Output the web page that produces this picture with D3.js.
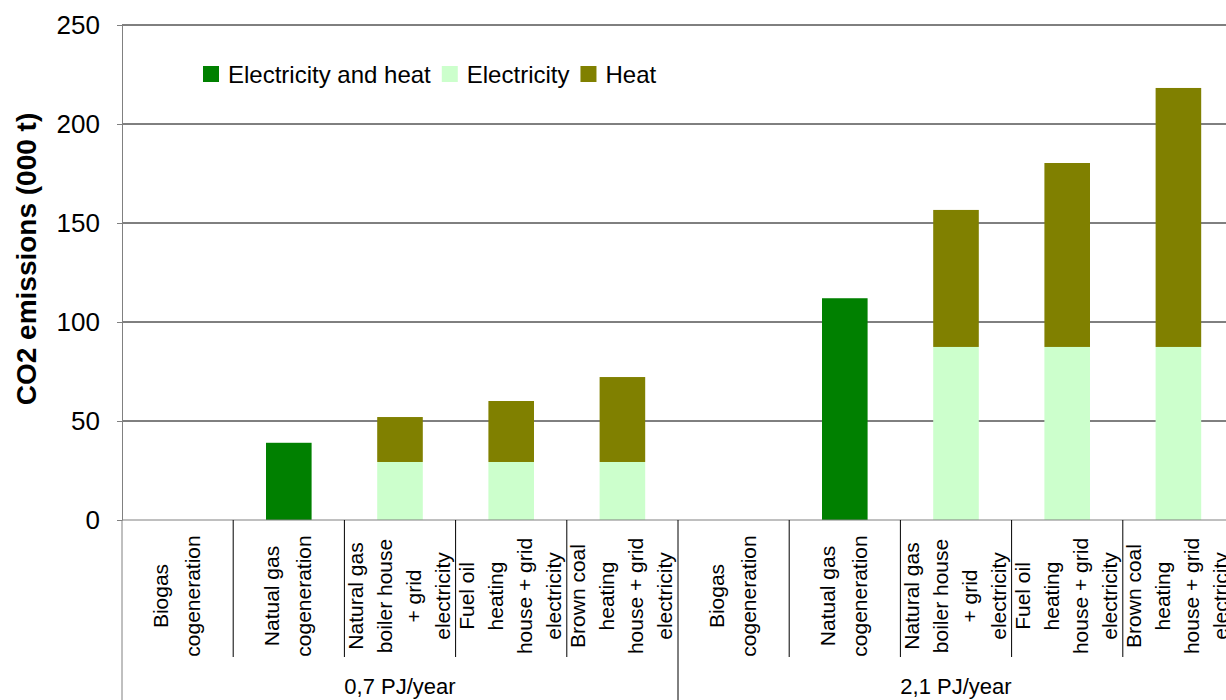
<!DOCTYPE html>
<html>
<head>
<meta charset="utf-8">
<script src="https://cdn.jsdelivr.net/npm/d3@7"></script>
<style>
  body { margin: 0; background: #fff; }
  text { font-family: Arial, "Liberation Sans", sans-serif; fill: #000; }
</style>
</head>
<body>
<div id="chart"></div>
<script>
// Category labels (one entry per line of the wrapped label)
const categories = [
    ["Biogas", "cogeneration"],
    ["Natual gas", "cogeneration"],
    ["Natural gas", "boiler house", "+ grid", "electricity"],
    ["Fuel oil", "heating", "house + grid", "electricity"],
    ["Brown coal", "heating", "house + grid", "electricity"],
    ["Biogas", "cogeneration"],
    ["Natual gas", "cogeneration"],
    ["Natural gas", "boiler house", "+ grid", "electricity"],
    ["Fuel oil", "heating", "house + grid", "electricity"],
    ["Brown coal", "heating", "house + grid", "electricity"]
];
const groups = ["0,7 PJ/year", "2,1 PJ/year"];

// Series values (000 t CO2)
const elecAndHeat = [0, 39, 0, 0, 0, 0, 112, 0, 0, 0];
const electricity = [0, 0, 29.3, 29.3, 29.3, 0, 0, 87.4, 87.4, 87.4];
const heat = [0, 0, 22.7, 30.8, 42.9, 0, 0, 69.2, 92.9, 130.8];

const seriesNames = ["Electricity and heat", "Electricity", "Heat"];
const colors = ["#008000", "#CCFFCC", "#808000"];
const yTicks = [0, 50, 100, 150, 200, 250];

// Build table for the stack
const table = categories.map((c, i) => ({
    idx: i,
    "Electricity and heat": elecAndHeat[i],
    "Electricity": electricity[i],
    "Heat": heat[i]
}));

// Set up chart dimensions
const totalWidth = 1226, totalHeight = 700;
const margin = { top: 25, left: 122 };
const width = 1112;   // plot runs a little past the right edge
const height = 495;

const svg = d3.select('#chart')
    .append('svg')
    .attr('width', totalWidth)
    .attr('height', totalHeight);

const g = svg.append('g')
    .attr('transform', `translate(${margin.left},${margin.top})`);

// Scales
const x = d3.scaleBand()
    .domain(table.map(d => d.idx))
    .range([0, width])
    .paddingInner(0.59)
    .paddingOuter(0.295);

const y = d3.scaleLinear()
    .domain([0, 250])
    .range([height, 0]);

const step = x.step();

// Gridlines
g.selectAll('.grid')
    .data(yTicks.filter(t => t > 0))
    .enter()
    .append('line')
    .attr('x1', 0)
    .attr('x2', width)
    .attr('y1', d => y(d))
    .attr('y2', d => y(d))
    .attr('stroke', '#000')
    .attr('stroke-width', 1);

// Stacked bars
const stacked = d3.stack().keys(seriesNames)(table);

g.selectAll('.series')
    .data(stacked)
    .enter()
    .append('g')
    .attr('fill', (d, i) => colors[i])
    .selectAll('rect')
    .data(d => d.filter(s => s[1] - s[0] > 0))
    .enter()
    .append('rect')
    .attr('x', d => x(d.data.idx))
    .attr('y', d => y(d[1]))
    .attr('width', x.bandwidth())
    .attr('height', d => y(d[0]) - y(d[1]));

// Y axis
const yAxis = g.append('g')
    .call(d3.axisLeft(y).tickValues(yTicks).tickSize(5).tickPadding(17).tickSizeOuter(0));
yAxis.select('.domain').attr('stroke', '#808080');
yAxis.selectAll('.tick line').attr('stroke', '#808080');
yAxis.selectAll('.tick text')
    .style('font-size', '26px')
    .style('font-family', 'Arial, "Liberation Sans", sans-serif')
    .attr('fill', '#000');

// X axis baseline
g.append('line')
    .attr('x1', 0)
    .attr('x2', width)
    .attr('y1', y(0))
    .attr('y2', y(0))
    .attr('stroke', '#808080');

// Category dividers under the axis (group borders go to the bottom)
const dividers = d3.range(0, categories.length + 1);
g.selectAll('.divider')
    .data(dividers)
    .enter()
    .append('line')
    .attr('x1', d => d * step)
    .attr('x2', d => d * step)
    .attr('y1', y(0))
    .attr('y2', d => (d % 5 === 0 ? totalHeight - margin.top : 632))
    .attr('stroke', d => (d === 0 ? '#808080' : '#000'))
    .attr('stroke-width', 1);

// Category labels, rotated, one text per line
categories.forEach((lines, i) => {
    const cx = x(i) + x.bandwidth() / 2;
    const lineStep = lines.length > 2 ? 29 : 31.7;
    lines.forEach((line, j) => {
        const off = (j - (lines.length - 1) / 2) * lineStep;
        g.append('text')
            .attr('transform', `translate(${cx + off - 1},${571}) rotate(-90)`)
            .attr('text-anchor', 'middle')
            .attr('dy', '0.35em')
            .style('font-size', '21px')
            .text(line);
    });
});

// Group labels
groups.forEach((name, i) => {
    g.append('text')
        .attr('x', (i * 5 + 2.5) * step)
        .attr('y', 669)
        .attr('text-anchor', 'middle')
        .style('font-size', '22px')
        .text(name);
});

// Y axis title
svg.append('text')
    .attr('transform', `translate(36,${259}) rotate(-90)`)
    .attr('text-anchor', 'middle')
    .style('font-size', '28px')
    .style('font-weight', 'bold')
    .text('CO2 emissions (000 t)');

// Legend
const legend = svg.append('g').attr('transform', 'translate(203,66)');
let lx = 0;
seriesNames.forEach((name, i) => {
    legend.append('rect')
        .attr('x', lx)
        .attr('y', 0)
        .attr('width', 16)
        .attr('height', 16)
        .attr('fill', colors[i]);
    const t = legend.append('text')
        .attr('x', lx + 25)
        .attr('y', 17)
        .style('font-size', '24px')
        .text(name);
    lx += 25 + t.node().getComputedTextLength() + 11;
});
</script>
</body>
</html>
